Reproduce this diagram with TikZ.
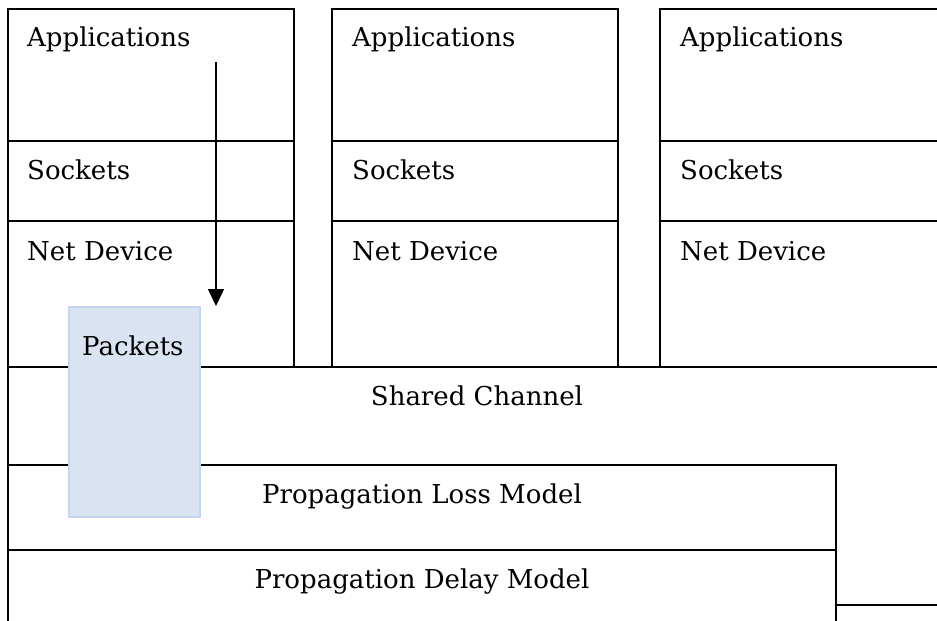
\documentclass[tikz,border=0pt]{standalone}
\usepackage{fontspec}
\setmainfont{DejaVu Serif}
\usetikzlibrary{arrows.meta}
\definecolor{pktfill}{HTML}{DAE3F1}
\definecolor{pktdraw}{HTML}{C5D6EE}
\begin{document}
\begin{tikzpicture}[x=1pt,y=-1pt,
  layer/.style={draw=black,line width=1.6pt,fill=white,rectangle,inner sep=0pt,outer sep=0pt,anchor=north west},
  lbl/.style={inner sep=0pt,anchor=base west,font=\fontsize{26}{30}\selectfont},
  clbl/.style={inner sep=0pt,anchor=base,font=\fontsize{26}{30}\selectfont},
  pkt/.style={draw=pktdraw,fill=pktfill,line width=1.6pt,rectangle,inner sep=0pt,outer sep=0pt,anchor=north west,minimum width=131pt,minimum height=210pt},
  flow/.style={line width=1.5pt,-{Triangle[length=17pt,width=16pt]}}]
\useasboundingbox (0,0) rectangle (937,621);
\clip (0,0) rectangle (937,621);
% node stacks
\node[layer,minimum width=286pt,minimum height=132pt] (app1) at (8,9) {};
\node[layer,minimum width=286pt,minimum height=80pt] (sock1) at (8,141) {};
\node[layer,minimum width=286pt,minimum height=146pt] (net1) at (8,221) {};
\node[layer,minimum width=286pt,minimum height=132pt] (app2) at (332,9) {};
\node[layer,minimum width=286pt,minimum height=80pt] (sock2) at (332,141) {};
\node[layer,minimum width=286pt,minimum height=146pt] (net2) at (332,221) {};
\node[layer,minimum width=286pt,minimum height=132pt] (app3) at (660,9) {};
\node[layer,minimum width=286pt,minimum height=80pt] (sock3) at (660,141) {};
\node[layer,minimum width=286pt,minimum height=146pt] (net3) at (660,221) {};
% channel layers
\node[layer,minimum width=938pt,minimum height=238pt] (chan) at (8,367) {};
\node[layer,minimum width=828pt,minimum height=85pt] (loss) at (8,465) {};
\node[layer,minimum width=828pt,minimum height=100pt] (delay) at (8,550) {};
% labels
\node[lbl] (tapp1) at (27,46) {Applications};
\node[lbl] (tsock1) at (27,179) {Sockets};
\node[lbl] (tnet1) at (27,260) {Net Device};
\node[lbl] (tapp2) at (352,46) {Applications};
\node[lbl] (tsock2) at (352,179) {Sockets};
\node[lbl] (tnet2) at (352,260) {Net Device};
\node[lbl] (tapp3) at (680,46) {Applications};
\node[lbl] (tsock3) at (680,179) {Sockets};
\node[lbl] (tnet3) at (680,260) {Net Device};
\node[clbl] (tchan) at (477,405) {Shared Channel};
\node[clbl] (tloss) at (422,503) {Propagation Loss Model};
\node[clbl] (tdelay) at (422,588) {Propagation Delay Model};
% packets
\node[pkt] (pkts) at (69,307) {};
\node[lbl] (tpkts) at (82,355) {Packets};
% arrow
\coordinate (astart) at (216,62);
\coordinate (aend) at (216,306);
\draw[flow] (astart) -- (aend);
\end{tikzpicture}
\end{document}
